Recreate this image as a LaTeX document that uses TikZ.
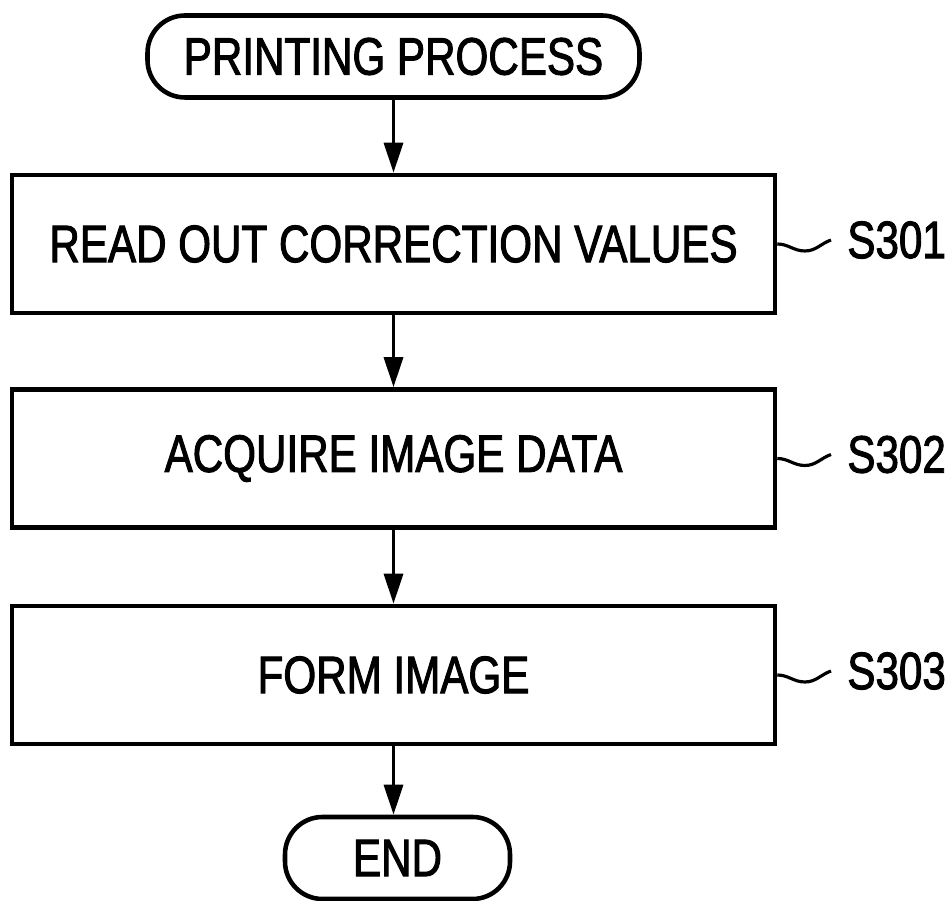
\documentclass[tikz,border=0pt]{standalone}
\usepackage{fontspec}
\setmainfont{Liberation Sans}[FakeStretch=0.8, FakeBold=1.8]
\usetikzlibrary{arrows.meta, shapes}

\begin{document}
\begin{tikzpicture}[scale=1, >={Triangle[length=6mm,width=3.8mm]},
  txt/.style={font=\fontsize{30}{36}\selectfont},
  stepbox/.style={txt, draw, line width=2.6pt, minimum width=15.26cm, minimum height=2.76cm},
  terminal/.style={txt, draw, line width=2.6pt, rounded corners=7.5mm, minimum height=1.64cm},
  steplabel/.style={txt, anchor=west, inner xsep=3.2mm, inner ysep=0pt},
  flow/.style={->, line width=1.8pt},
  tilde/.style={line width=1.8pt}]
\useasboundingbox (0,0) rectangle (19.02,18.02);
% start / end
\node[terminal, minimum width=9.84cm] (start) at (7.87,16.89) {PRINTING PROCESS};
\node[terminal, minimum width=4.5cm] (end) at (7.95,0.86) {END};
% steps
\node[stepbox] (b1) at (7.87,13.14) {READ OUT CORRECTION VALUES};
\node[stepbox] (b2) at (7.87,8.85) {ACQUIRE IMAGE DATA};
\node[stepbox] (b3) at (7.87,4.52) {FORM IMAGE};
\node[steplabel] (s1) at (16.62,13.22) {S301};
\node[steplabel] (s2) at (16.62,8.93) {S302};
\node[steplabel] (s3) at (16.62,4.60) {S303};
\draw[flow] (start) -- (b1);
\draw[flow] (b1) -- (b2);
\draw[flow] (b2) -- (b3);
\draw[flow] (b3.south) -- (b3.south |- end.north);
\draw[tilde] (b1.east) to[out=0,in=180] ++(0.55,-0.14) to[out=0,in=200] (s1.west);
\draw[tilde] (b2.east) to[out=0,in=180] ++(0.55,-0.14) to[out=0,in=200] (s2.west);
\draw[tilde] (b3.east) to[out=0,in=180] ++(0.55,-0.14) to[out=0,in=200] (s3.west);
\end{tikzpicture}
\end{document}
